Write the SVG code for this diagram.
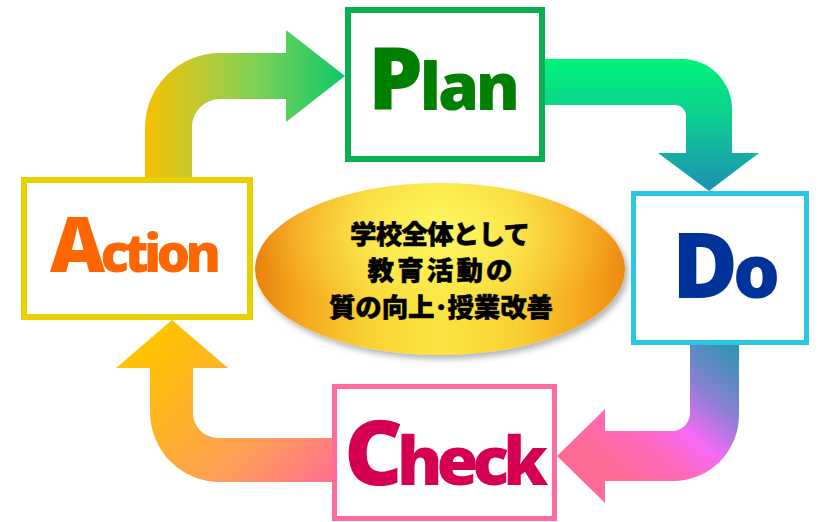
<svg xmlns="http://www.w3.org/2000/svg" width="820" height="522" viewBox="0 0 820 522">
  <style>
    .box { fill: #ffffff; }
    .label { font-family: "Open Sans", "Noto Sans", "Liberation Sans", sans-serif; font-weight: 800; }
    .goal-text { font-family: "Noto Sans CJK JP", "Noto Sans CJK SC", sans-serif; font-weight: 900; font-size: 26.5px; fill: #000000; stroke: #000000; stroke-width: 0.5; text-anchor: middle; }
  </style>
  <defs>
    <!-- arrow fills -->
    <linearGradient id="gAP" gradientUnits="userSpaceOnUse" x1="145" y1="0" x2="345" y2="0">
      <stop offset="0" stop-color="#f7c000"/>
      <stop offset="0.25" stop-color="#c4c92e"/>
      <stop offset="0.55" stop-color="#7fd255"/>
      <stop offset="1" stop-color="#0dc86a"/>
    </linearGradient>
    <linearGradient id="gPD" gradientUnits="userSpaceOnUse" x1="0" y1="59" x2="0" y2="191">
      <stop offset="0" stop-color="#00f47a"/>
      <stop offset="0.4" stop-color="#0bd28e"/>
      <stop offset="0.75" stop-color="#16aba5"/>
      <stop offset="1" stop-color="#1c92b2"/>
    </linearGradient>
    <linearGradient id="gDC" gradientUnits="userSpaceOnUse" x1="730" y1="345" x2="620" y2="480">
      <stop offset="0" stop-color="#2f95b0"/>
      <stop offset="0.3" stop-color="#8a80d5"/>
      <stop offset="0.55" stop-color="#f76af5"/>
      <stop offset="0.75" stop-color="#ff69b8"/>
      <stop offset="1" stop-color="#ff6b95"/>
    </linearGradient>
    <linearGradient id="gCA" gradientUnits="userSpaceOnUse" x1="172" y1="320" x2="336" y2="482">
      <stop offset="0" stop-color="#ffc400"/>
      <stop offset="0.35" stop-color="#fdb02c"/>
      <stop offset="0.65" stop-color="#ff9c5c"/>
      <stop offset="1" stop-color="#ff6e90"/>
    </linearGradient>
    <!-- central ellipse shading -->
    <linearGradient id="gGoal" x1="0" y1="0" x2="1" y2="0">
      <stop offset="0" stop-color="#e8820c"/>
      <stop offset="0.12" stop-color="#f5a51e"/>
      <stop offset="0.3" stop-color="#f8d232"/>
      <stop offset="0.5" stop-color="#fbe540"/>
      <stop offset="0.7" stop-color="#f8d232"/>
      <stop offset="0.88" stop-color="#f6a81e"/>
      <stop offset="1" stop-color="#ee8a10"/>
    </linearGradient>
    <radialGradient id="gGloss" cx="0.5" cy="0.3" r="0.5">
      <stop offset="0" stop-color="#ffff70" stop-opacity="0.7"/>
      <stop offset="0.6" stop-color="#ffff70" stop-opacity="0.25"/>
      <stop offset="1" stop-color="#ffff70" stop-opacity="0"/>
    </radialGradient>
    <filter id="shadow" x="-10%" y="-10%" width="120%" height="130%">
      <feDropShadow dx="3" dy="4" stdDeviation="3" flood-color="#000000" flood-opacity="0.3"/>
    </filter>
  </defs>

  <!-- connectors: bent block arrows between the four stages -->
  <g id="connectors">
    <path id="arrow-action-plan" fill="url(#gAP)" d="M145,180 L145,128 A75,75 0 0 1 220,53 L286,53 L286,30 L345,76 L286,122 L286,99 L220,99 A28,28 0 0 0 192,127 L192,180 Z"/>
    <path id="arrow-plan-do" fill="url(#gPD)" d="M540,59 L682,59 A50,50 0 0 1 732,109 L732,153 L759,153 L709,191 L658,153 L686,153 L686,116 A11,11 0 0 0 675,105 L540,105 Z"/>
    <path id="arrow-do-check" fill="url(#gDC)" d="M690,340 L739,340 L739,415 A66,66 0 0 1 673,481 L605,481 L605,503 L557,456 L605,409 L605,431 L672,431 A18,18 0 0 0 690,413 Z"/>
    <path id="arrow-check-action" fill="url(#gCA)" d="M336,482 L220,482 A70,70 0 0 1 150,412 L150,368 L116,368 L172,320 L228,368 L193,368 L193,413 A25,25 0 0 0 218,438 L336,438 Z"/>
  </g>

  <!-- central goal -->
  <g id="goal">
    <ellipse cx="440" cy="269" rx="185" ry="86" fill="url(#gGoal)" filter="url(#shadow)"/>
    <ellipse cx="440" cy="269" rx="185" ry="86" fill="url(#gGloss)"/>
    <text class="goal-text" x="440" y="244" textLength="180">学校全体として</text>
    <text class="goal-text" x="440" y="280" textLength="145">教育活動の</text>
    <text class="goal-text" x="441" y="317" textLength="224">質の向上･授業改善</text>
  </g>

  <g id="plan">
    <rect class="box" x="348" y="10" width="194" height="149" stroke="#0aaf50" stroke-width="6"/>
    <text class="label" x="368" y="110" fill="#008000" textLength="152"><tspan font-size="87">P</tspan><tspan font-size="66">lan</tspan></text>
  </g>

  <g id="do">
    <rect class="box" x="633.5" y="193.5" width="173" height="149" stroke="#29c6e6" stroke-width="5"/>
    <text class="label" x="672" y="298" fill="#003399"><tspan font-size="90">D</tspan><tspan font-size="74" dx="-5">o</tspan></text>
  </g>

  <g id="check">
    <rect class="box" x="334.5" y="386.5" width="220" height="132" stroke="#ff6b9b" stroke-width="5"/>
    <text class="label" x="344" y="485" fill="#d60052" textLength="204"><tspan font-size="91">C</tspan><tspan font-size="68">heck</tspan></text>
  </g>

  <g id="action">
    <rect class="box" x="24" y="180" width="226" height="137" stroke="#e8d000" stroke-width="6"/>
    <text class="label" x="50" y="272" fill="#ff6600" textLength="171"><tspan font-size="76">A</tspan><tspan font-size="53">ction</tspan></text>
  </g>
</svg>
